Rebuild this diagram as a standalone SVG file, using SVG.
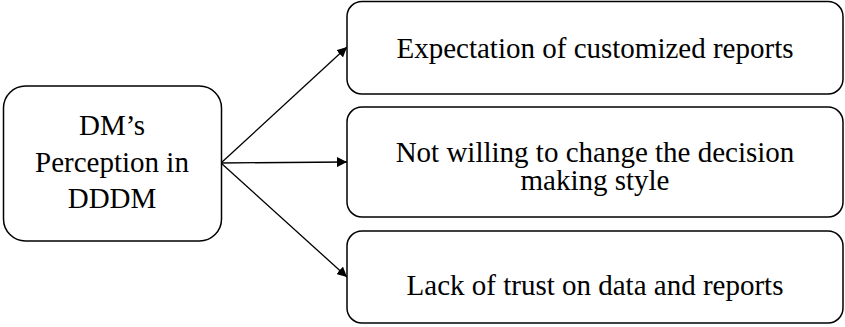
<svg xmlns="http://www.w3.org/2000/svg" width="845" height="327" viewBox="0 0 845 327">
<style>
.box{fill:#fff;stroke:#000;stroke-width:1.5}
.t{font-size:29px;fill:#000;text-anchor:middle}
.c{stroke:#000;stroke-width:1.3;fill:none;marker-end:url(#ah)}
</style>
<defs>
<marker id="ah" viewBox="0 0 10 10" refX="10" refY="5" markerWidth="10" markerHeight="10" markerUnits="userSpaceOnUse" orient="auto">
<path d="M0,0 L10,5 L0,10 z" fill="#000"/>
</marker>
</defs>
<rect width="845" height="327" fill="#fff"/>
<g id="connectors">
<line class="c" x1="221" y1="163" x2="347" y2="47"/>
<line class="c" x1="221" y1="163" x2="347" y2="162"/>
<line class="c" x1="221" y1="163" x2="347" y2="277"/>
</g>
<g id="n0" font-family="Times New Roman, serif">
<rect class="box" x="3.5" y="86" width="218" height="155" rx="22"/>
<text class="t" x="112" y="135">DM’s</text>
<text class="t" x="112" y="172">Perception in</text>
<text class="t" x="112" y="208">DDDM</text>
</g>
<g id="n1" font-family="Times New Roman, serif">
<rect class="box" x="347" y="1.5" width="496" height="92.5" rx="15"/>
<text class="t" x="595" y="58">Expectation of customized reports</text>
</g>
<g id="n2" font-family="Times New Roman, serif">
<rect class="box" x="347" y="107" width="496" height="110" rx="15"/>
<text class="t" x="595" y="162">Not willing to change the decision</text>
<text class="t" x="595" y="190">making style</text>
</g>
<g id="n3" font-family="Times New Roman, serif">
<rect class="box" x="347" y="231" width="496" height="92" rx="15"/>
<text class="t" x="595" y="295">Lack of trust on data and reports</text>
</g>
</svg>
